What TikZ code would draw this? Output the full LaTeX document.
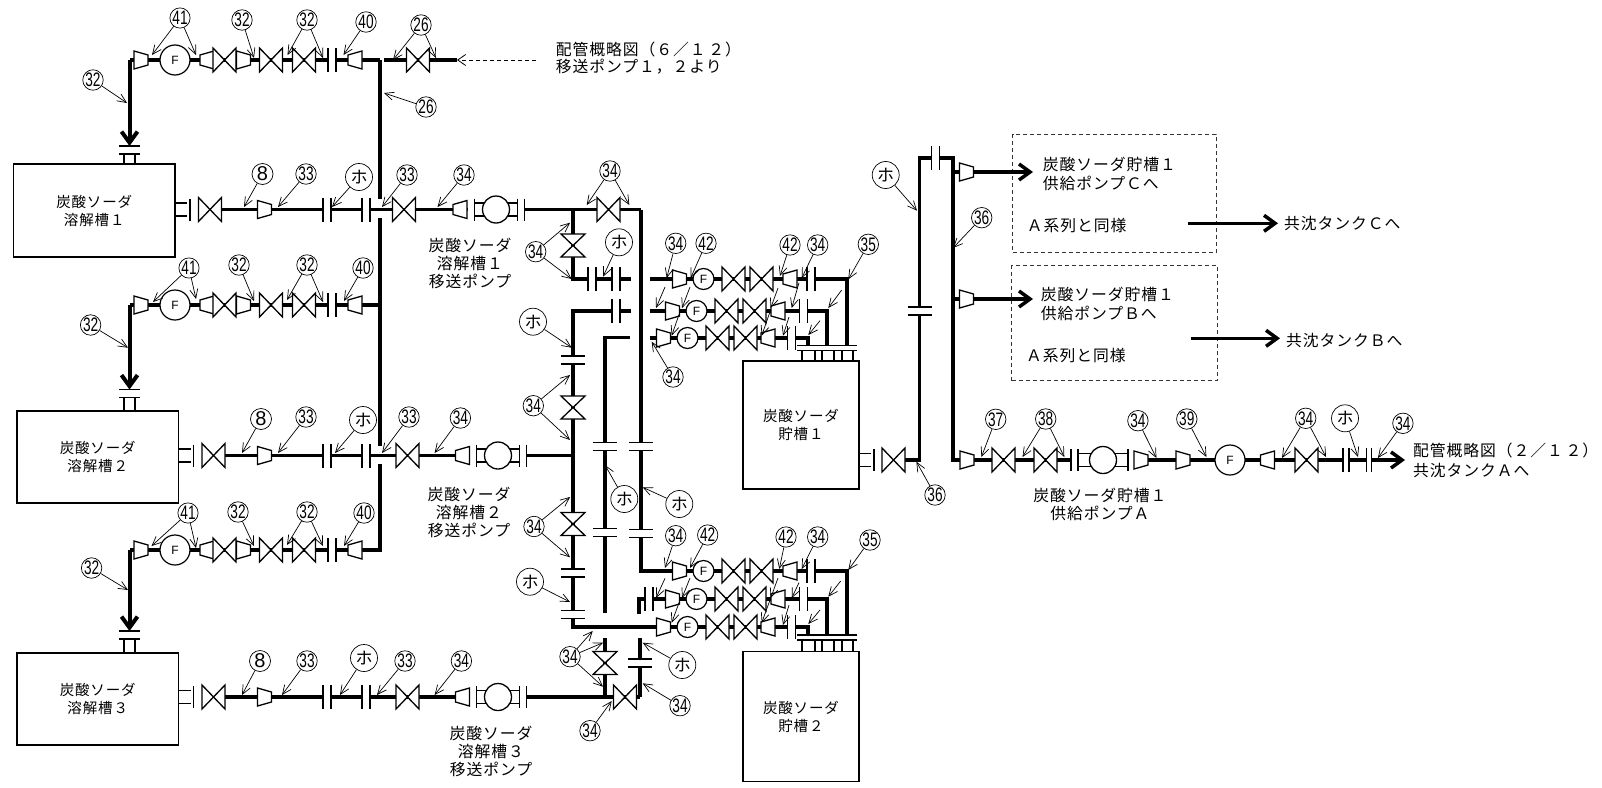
\documentclass[tikz,border=0pt]{standalone}
\usepackage{fontspec}
\setmainfont{Noto Sans CJK JP}
\newfontfamily\jpfont[LetterSpace=6]{Noto Sans CJK JP}
\newfontfamily\numfont[FakeStretch=0.7]{Liberation Sans}
\newfontfamily\ffont{Liberation Sans}
\usetikzlibrary{arrows.meta}
% full-width digits, letters and signs
\newcommand{\zi}{\char"FF11\relax}
\newcommand{\zii}{\char"FF12\relax}
\newcommand{\ziii}{\char"FF13\relax}
\newcommand{\zvi}{\char"FF16\relax}
\newcommand{\zA}{\char"FF21\relax}
\newcommand{\zB}{\char"FF22\relax}
\newcommand{\zC}{\char"FF23\relax}
\newcommand{\zlp}{\char"FF08\relax}
\newcommand{\zrp}{\char"FF09\relax}
\newcommand{\zsl}{\char"FF0F\relax}
\newcommand{\zcm}{\char"FF0C\relax}
\tikzset{
  pipe/.style={line width=3.5pt},
  comp/.style={draw,fill=white,line width=1.3pt},
  thin line/.style={line width=1.2pt},
  lead/.style={-{Straight Barb[length=9pt,width=8pt]},line width=.7pt},
  fat/.style={line width=3.5pt,-{Straight Barb[length=11pt,width=16pt]}},
  num/.style={circle,draw,fill=white,line width=.7pt,minimum size=20pt,inner sep=0pt,font=\numfont\fontsize{19.5}{19.5}\selectfont},
  eight/.style={num,minimum size=21pt,font=\ffont\fontsize{20}{20}\selectfont},
  ho/.style={num,minimum size=27pt,font=\fontsize{17}{17}\selectfont},
  fmeter/.style={circle,draw,fill=white,line width=1.2pt,minimum size=30pt,inner sep=0pt,font=\ffont\fontsize{12}{12}\selectfont},
  fsmall/.style={fmeter,minimum size=21pt},
  tank/.style={draw,fill=white,line width=1.2pt,inner sep=0pt,align=center,font=\jpfont\fontsize{14.5}{18}\selectfont},
  txt/.style={inner sep=0pt,align=center,font=\jpfont\fontsize{15.8}{18}\selectfont},
  txtl/.style={txt,anchor=west,align=left},
  dashbox/.style={draw,line width=.9pt,dash pattern=on 4pt off 3pt,black!80},
  valve/.pic={\path[comp] (-11.5,-12)--(11.5,12)--(11.5,-12)--(-11.5,12)--cycle;},
  reducer/.pic={\path[comp] (-7,-9)--(7,-5)--(7,5)--(-7,9)--cycle;},
  flange/.pic={\fill[white] (-4,-2.5) rectangle (4,2.5);
    \draw[thin line] (-4,-12)--(-4,12) (4,-12)--(4,12);},
  outlet/.pic={\draw[thin line] (0,-6.5)--(12,-6.5) (0,6.5)--(12,6.5) (15,-11)--(15,11);},
  topnozzle/.pic={\draw[thin line] (-10.5,0)--(10.5,0) (-10.5,8)--(10.5,8) (-5.5,8)--(-5.5,22) (5.5,8)--(5.5,22);},
  tanktop/.pic={\draw[thin line] (0,0)--(60,0) (0,5)--(60,5);
    \foreach \n in {5,18,25,37,45,56}{\draw[thin line] (\n,5)--(\n,16);}},
  pics/pump/.style={code={\fill[white] (-#1-7,-6) rectangle (#1+7,6);
    \draw[thin line] (-#1,-6.5)--(#1,-6.5) (-#1,6.5)--(#1,6.5) (-#1,-11)--(-#1,11) (#1,-11)--(#1,11) (#1+7,-11)--(#1+7,11);
    \path[comp] (0,0) circle (13.5);}},
}
\newcommand{\tagto}[5][num]{\node[#1] (#2) at (#3) {#4};
  \foreach \tx/\ty [count=\i] in {#5}{\coordinate (#2-\i) at (\tx,\ty); \draw[lead] (#2) -- (#2-\i);}}
\begin{document}
\begin{tikzpicture}[x=1pt,y=-1pt]
\useasboundingbox (0,0) rectangle (1602,787);
% supply header
\draw[pipe] (380,60)--(380,199) (380,218)--(380,446) (380,464)--(380,550)--(362,550);
\draw[pipe] (384,60)--(457,60);
\pic at (418,60){valve};
\draw[line width=.8pt,dash pattern=on 4pt off 3pt,-{Straight Barb[length=8pt,width=11pt]}] (536,60)--(457,60);
\node[txtl] (src1) at (555.7,49){配管概略図\zlp\zvi\zsl\zi\,\zii\zrp};
\node[txtl] (src2) at (555.7,66.7){移送ポンプ\zi\zcm\zii より};
% lines to the dissolving tanks
\foreach \y/\a in {60/146,305/389.5,550/631}{
  \draw[pipe] (380,\y)--(129.5,\y);
  \draw[fat,line width=4pt] (129.5,\y)--(129.5,\a);
  \pic at (129.5,\a){topnozzle};
  \pic at (141,\y){reducer};
  \node[fmeter] (fm\y) at (175,\y){F};
  \pic[xscale=-1] at (207,\y){reducer};
  \pic at (224.5,\y){valve};
  \pic at (243.5,\y){reducer};
  \pic at (271,\y){valve};
  \pic at (304,\y){valve};
  \pic at (332,\y){flange};
  \pic[xscale=-1] at (355,\y){reducer};
}
% tanks
\node[tank,minimum width=161.5pt,minimum height=93pt] (tank1) at (94.25,210.5){炭酸ソーダ\\溶解槽\zi};
\node[tank,minimum width=161.5pt,minimum height=92pt] (tank2) at (97.75,457){炭酸ソーダ\\溶解槽\zii};
\node[tank,minimum width=161.5pt,minimum height=92pt] (tank3) at (97.75,699){炭酸ソーダ\\溶解槽\ziii};
% transfer pumps
\foreach \y/\t/\v/\r/\e/\p in {209.5/175/210/460/641/496,455.5/178.5/213.5/462.5/573/498,697/178.5/213.5/462.5/640/498}{
  \draw[pipe] (\v,\y)--(\e,\y);
  \pic at (\t,\y){outlet};
  \pic at (\v,\y){valve};
  \pic at (264.5,\y){reducer};
  \pic at (327,\y){flange};
  \pic at (366,\y){flange};
  \pic at (\v+194,\y){valve};
  \pic at (\p,\y){pump=21.5};
  \pic[xscale=-1] at (\r,\y){reducer};
}
\pic at (608.5,209.5){valve};
\pic at (625,697){valve};
\node[txt] (p1) at (470,263.5){炭酸ソーダ\\溶解槽\zi\\移送ポンプ};
\node[txt] (p2) at (469,512){炭酸ソーダ\\溶解槽\zii\\移送ポンプ};
\node[txt] (p3) at (491,751){炭酸ソーダ\\溶解槽\ziii\\移送ポンプ};
% crossover piping
\draw[pipe] (641,209.5)--(641,571)--(847,571)--(847,635);
\draw[pipe] (573,209.5)--(573,279)--(631,279);
\draw[pipe] (631,311)--(573,311)--(573,627)--(808,627)--(808,635);
\draw[pipe] (630,337.5)--(605,337.5)--(605,613);
\draw[pipe] (605,638)--(605,697);
\draw[pipe] (640,697)--(640,638);
\draw[pipe] (639,614)--(639,599)--(827,599)--(827,635);
\draw[pipe] (650,279)--(847,279)--(847,345);
\draw[pipe] (650,311)--(827,311)--(827,345);
\draw[pipe] (650,338)--(808,338)--(808,345);
\pic at (592,279){flange};
\pic at (616,279){flange};
\pic at (616,311){flange};
\pic at (649,599){flange};
\foreach \x/\y in {573/360,573/573,573/614.5,605/446.7,605/532.5,641/446.7,641/533.5,640/663}{
  \pic[rotate=90] at (\x,\y){flange};
}
\foreach \x/\y in {573/245.5,573/407.5,573/524,605/663}{
  \pic[rotate=90] at (\x,\y){valve};
}
\foreach \y/\d/\e/\f in {279/0/0/0,311/7/12/7.5,338/16/22/19.5,571/0/0/0,599/7/12/7.5,627/16/22/19.5}{
  \pic at (679.5-\d,\y){reducer};
  \node[fsmall] (fs\y) at (703.5-\d,\y){F};
  \pic at (733.5-\d,\y){valve};
  \pic at (761.5-\d,\y){valve};
  \pic[xscale=-1] at (790-\e,\y){reducer};
  \pic at (811-\f,\y){flange};
}
% storage tanks
\pic at (797,345.5){tanktop};
\pic at (797,635){tanktop};
\node[tank,minimum width=116pt,minimum height=128pt] (store1) at (801,425){炭酸ソーダ\\貯槽\zi};
\node[tank,minimum width=116pt,minimum height=130.5pt] (store2) at (801,716.5){炭酸ソーダ\\貯槽\zii};
\pic at (859,460){outlet};
% supply pumps
\draw[pipe] (893.5,460)--(919.5,460)--(919.5,158)--(953,158)--(953,460)--(1400,460);
\draw[fat] (1390,460)--(1405,460);
\pic at (893.5,460){valve};
\pic[rotate=90] at (919.5,311){flange};
\pic at (935.5,158){flange};
\pic at (967,460){reducer};
\pic at (1003.5,460){valve};
\pic at (1045.5,460){valve};
\pic[xscale=-1] at (1103,460){pump=25};
\pic at (1141,460){reducer};
\pic at (1183,460){reducer};
\node[fmeter] (fm3) at (1230,460){F};
\pic[xscale=-1] at (1267.5,460){reducer};
\pic at (1306.5,460){valve};
\pic[xscale=.75] at (1346,460){flange};
\pic[xscale=.65] at (1369,460){flange};
\node[txt] (p4) at (1100,504){炭酸ソーダ貯槽\zi\\供給ポンプ\zA};
\node[txtl] (dst1) at (1413,450.7){配管概略図\zlp\zii\zsl\zi\,\zii\zrp};
\node[txtl] (dst2) at (1413,470){共沈タンク\zA へ};
% pumps B and C
\node[dashbox,minimum width=203.5pt,minimum height=118.5pt] (boxc) at (1114.5,193.5){};
\node[dashbox,minimum width=205.5pt,minimum height=115pt] (boxb) at (1114.5,323.2){};
\draw[pipe] (953,172)--(960,172) (953,299)--(960,299);
\pic at (966.5,172){reducer};
\pic at (966.5,299){reducer};
\draw[fat] (973,172)--(1033,172);
\draw[fat] (973,299)--(1033,299);
\node[txtl] (c1) at (1042.7,164){炭酸ソーダ貯槽\zi};
\node[txtl] (c2) at (1042.7,183){供給ポンプ\zC へ};
\node[txtl] (c3) at (1026.7,226){\zA 系列と同様};
\node[txtl] (b1) at (1040.7,294){炭酸ソーダ貯槽\zi};
\node[txtl] (b2) at (1040.7,313){供給ポンプ\zB へ};
\node[txtl] (b3) at (1026,355.7){\zA 系列と同様};
\draw[fat] (1188,223.3)--(1278,223.3);
\draw[fat] (1190.7,338.3)--(1280,338.3);
\node[txtl] (c4) at (1284,224){共沈タンク\zC へ};
\node[txtl] (b4) at (1286,340){共沈タンク\zB へ};
% item numbers, row 1
\tagto{a1}{180,18}{41}{152/55,196/55}
\tagto{a2}{242,20}{32}{254/58}
\tagto{a3}{307,20}{32}{287.5/55,323/58}
\tagto{a4}{366,22}{40}{343.5/55}
\tagto{a5}{421,25}{26}{393/60,436/58}
\tagto{a6}{93,80}{32}{127/103}
\tagto{a7}{426,107}{26}{384/93}
\tagto[eight]{a8}{262.5,174}{8}{244/207}
\tagto{a9}{306,174}{33}{278/207}
\tagto[ho]{a10}{359,177}{ホ}{332/207}
\tagto{a11}{407,175}{33}{382/207}
\tagto{a12}{464,175}{34}{437.5/207}
% item numbers, row 2
\tagto{b5}{189,268}{41}{153/302,196/299}
\tagto{b6}{239,265}{32}{254/301}
\tagto{b7}{307,265}{32}{287/300,323/302}
\tagto{b8}{363,268}{40}{344/301}
\tagto{b9}{90.6,325}{32}{128/347.7}
\tagto[eight]{b10}{261,419}{8}{242/453}
\tagto{b11}{306,417}{33}{278/453}
\tagto[ho]{b12}{363,420}{ホ}{335/453}
\tagto{b13}{409,417}{33}{382/453}
\tagto{b14}{460.4,418}{34}{434.6/453}
% item numbers, row 3
\tagto{d1}{188,513}{41}{151.5/546,196/548}
\tagto{d2}{238,512}{32}{254/546}
\tagto{d3}{307,512}{32}{287/545,323/546}
\tagto{d4}{364,513}{40}{344/546}
\tagto{d5}{91.6,568}{32}{128/590}
\tagto[eight]{d6}{260,661}{8}{242/695}
\tagto{d7}{307,661}{33}{282/695}
\tagto[ho]{d8}{364,658}{ホ}{340/695}
\tagto{d9}{405,661}{33}{377/695}
\tagto{d10}{461.4,661}{34}{434.6/695}
% item numbers, crossover
\tagto{e1}{610,171}{34}{586.7/205,629.3/205}
\tagto{e2}{535.7,251.7}{34}{570/222.7,571.7/279}
\tagto[ho]{e3}{619,242.3}{ホ}{603/276.7}
\tagto[ho]{e4}{533,321.7}{ホ}{571.7/347.7}
\tagto{e5}{533.3,405.7}{34}{570/375,570/440}
\tagto{e6}{534,526.5}{34}{570/497,570/557.3}
\tagto[ho]{e7}{530,581.7}{ホ}{570/602}
\tagto[ho]{e8}{624.3,499}{ホ}{605/465}
\tagto[ho]{e9}{679.3,504}{ホ}{642.7/487.3}
\tagto{e10}{570,656.7}{34}{592.7/631,603/642.7,603/686.7}
\tagto[ho]{e11}{682.3,665}{ホ}{642.7/642.7}
\tagto{e12}{680,705.7}{34}{642.7/683.3}
\tagto{e13}{590,730.7}{34}{611.7/701}
% item numbers, tank lines
\tagto{f1}{675.7,243.3}{34}{666.7/278}
\tagto{f2}{706,243.3}{42}{690.7/278}
\tagto{f3}{790,245}{42}{780/276}
\tagto{f4}{817.7,245}{34}{801.7/278}
\tagto{f5}{868.3,244.3}{35}{848.3/279.3}
\tagto{f6}{673,377}{34}{651.7/341.7}
\tagto{g1}{675.7,535.7}{34}{665/568}
\tagto{g2}{707.7,535}{42}{690/568}
\tagto{g3}{786,537}{42}{779.3/569}
\tagto{g4}{817.7,537}{34}{801.7/569}
\tagto{g5}{870,540}{35}{848.3/570}
% unnumbered leaders
\foreach \ax/\ay/\bx/\by [count=\k] in {665/287/656/308,690/287/682/308,778/288/770.7/308,799/282.7/791.7/308,841.7/290/828.3/308,
  680/311.7/671.7/335.7,770/311.7/761.7/335.7,789/317/783/335.7,820/320.7/808.3/335,
  665/578.3/656/598,690/578/682/598,778/578/770.7/598,799/582.7/791.7/598,840.7/581/828.3/596.7,
  680/600/671.7/622.7,770/600/761.7/622.7,789/605/783/625,820/610/808.3/624}{
  \coordinate (ls\k) at (\ax,\ay);
  \coordinate (le\k) at (\bx,\by);
  \draw[lead] (ls\k) -- (le\k);
}
% item numbers, supply side
\tagto[ho]{h1}{885.7,175}{ホ}{917/210.7}
\tagto{h2}{981.7,217.7}{36}{953/248}
\tagto{h3}{935,495}{36}{916.4/461.7}
\tagto{h4}{995.7,419.3}{37}{981.4/457}
\tagto{h5}{1045.7,419}{38}{1022.5/457,1064.3/457}
\tagto{h6}{1137.9,420.7}{34}{1156.4/458}
\tagto{h7}{1186.8,419}{39}{1206.4/457}
\tagto{h8}{1305.7,418.3}{34}{1282/458,1326/457}
\tagto[ho]{h9}{1345,418.3}{ホ}{1358/457}
\tagto{h10}{1402.9,423.3}{34}{1377.9/458}
\end{tikzpicture}
\end{document}
